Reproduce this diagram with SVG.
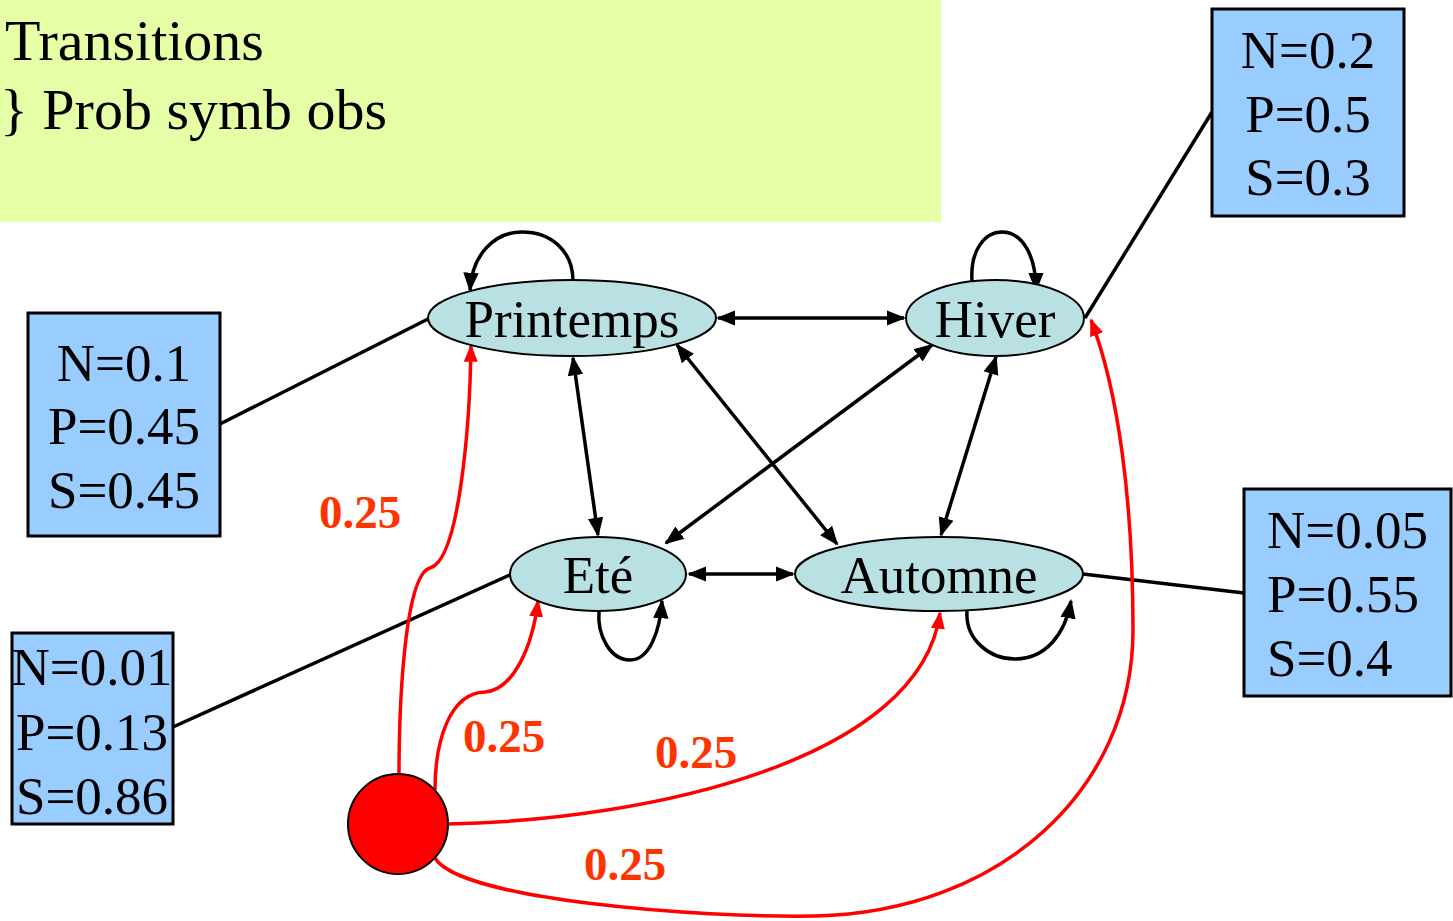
<svg xmlns="http://www.w3.org/2000/svg" width="1453" height="921" viewBox="0 0 1453 921">
<defs>
<style>
.t{font-family:"Liberation Serif","Times New Roman",serif;fill:#000}
.big{font-size:53px}
.leg{font-size:58px}
.st{fill:#B9E0E3;stroke:#000;stroke-width:2}
.obs{fill:#99CCFF;stroke:#000;stroke-width:3}
.ln{fill:none;stroke:#000;stroke-width:3.5}
.red{fill:none;stroke:#FF0000;stroke-width:3.5}
.lab{font-family:"Liberation Serif","Times New Roman",serif;font-weight:bold;font-size:47px;fill:#FF3300}
</style>
<marker id="ab" viewBox="0 0 10 10" refX="9" refY="5" markerWidth="5.5" markerHeight="5.5" orient="auto-start-reverse" markerUnits="strokeWidth">
<path d="M0,1 L10,5 L0,9 z" fill="#000"/>
</marker>
<marker id="ar" viewBox="0 0 10 10" refX="9" refY="5" markerWidth="5" markerHeight="5" orient="auto" markerUnits="strokeWidth">
<path d="M0,1 L10,5 L0,9 z" fill="#FF0000"/>
</marker>
</defs>
<rect width="1453" height="921" fill="#fff"/>
<g id="legend">
<rect x="0" y="0" width="941" height="222" fill="#E6FFA6"/>
<text class="t leg" x="5" y="60">Transitions</text>
<text class="t leg" x="0" y="129">} Prob symb obs</text>
</g>
<g id="connectors">
<line class="ln" x1="220" y1="424" x2="430" y2="318"/>
<line class="ln" x1="173" y1="727" x2="512" y2="574"/>
<line class="ln" x1="1212" y1="112" x2="1085" y2="318"/>
<line class="ln" x1="1244" y1="593" x2="1083" y2="574"/>
<line class="ln" x1="718" y1="318" x2="904" y2="318" marker-start="url(#ab)" marker-end="url(#ab)"/>
<line class="ln" x1="573" y1="358" x2="598" y2="535" marker-start="url(#ab)" marker-end="url(#ab)"/>
<line class="ln" x1="677" y1="345" x2="837" y2="544" marker-start="url(#ab)" marker-end="url(#ab)"/>
<line class="ln" x1="932" y1="345" x2="666" y2="543" marker-start="url(#ab)" marker-end="url(#ab)"/>
<line class="ln" x1="996" y1="357" x2="941" y2="535" marker-start="url(#ab)" marker-end="url(#ab)"/>
<line class="ln" x1="689" y1="574" x2="793" y2="574" marker-start="url(#ab)" marker-end="url(#ab)"/>
<path class="ln" d="M573,281 C573,250 550,232 522,232 C494,232 472,255 470,290" marker-end="url(#ab)"/>
<path class="ln" d="M972,281 C970,250 985,232 1002,232 C1022,232 1036,255 1036,290" marker-end="url(#ab)"/>
<path class="ln" d="M599,611 C597,635 610,660 630,660 C650,660 660,630 662,601" marker-end="url(#ab)"/>
<path class="ln" d="M967,611 C965,640 990,659 1015,659 C1045,659 1065,635 1071,601" marker-end="url(#ab)"/>
<path class="red" d="M399,776 C399,700 405,575 430,568 C460,560 470,420 471,346" marker-end="url(#ar)"/>
<path class="red" d="M435,790 C435,740 450,693 485,692 C512,690 532,650 538,601" marker-end="url(#ar)"/>
<path class="red" d="M448,824 C650,820 920,760 940,613" marker-end="url(#ar)"/>
<path class="red" d="M435,858 C460,900 700,918 815,916 C1000,912 1133,790 1133,630 C1133,500 1118,390 1091,320" marker-end="url(#ar)"/>
<text class="lab" x="319" y="528">0.25</text>
<text class="lab" x="463" y="752">0.25</text>
<text class="lab" x="655" y="768">0.25</text>
<text class="lab" x="584" y="880">0.25</text>
</g>
<g id="printemps">
<ellipse class="st" cx="572" cy="318" rx="144" ry="38"/>
<text class="t big" x="572" y="337" text-anchor="middle">Printemps</text>
</g>
<g id="hiver">
<ellipse class="st" cx="995" cy="318" rx="89" ry="38"/>
<text class="t big" x="995" y="337" text-anchor="middle">Hiver</text>
</g>
<g id="ete">
<ellipse class="st" cx="598" cy="574" rx="88" ry="37"/>
<text class="t big" x="598" y="593" text-anchor="middle">Eté</text>
</g>
<g id="automne">
<ellipse class="st" cx="939" cy="574" rx="144" ry="37"/>
<text class="t big" x="939" y="593" text-anchor="middle">Automne</text>
</g>
<g id="start">
<circle cx="398" cy="824" r="50" fill="#FF0000" stroke="#000" stroke-width="2"/>
</g>
<g id="obs-printemps">
<rect class="obs" x="28" y="313" width="192" height="223"/>
<text class="t big" x="124" y="381" text-anchor="middle">N=0.1</text>
<text class="t big" x="124" y="444" text-anchor="middle">P=0.45</text>
<text class="t big" x="124" y="508" text-anchor="middle">S=0.45</text>
</g>
<g id="obs-ete">
<rect class="obs" x="12" y="633" width="161" height="191"/>
<text class="t big" x="92" y="685" text-anchor="middle">N=0.01</text>
<text class="t big" x="92" y="750" text-anchor="middle">P=0.13</text>
<text class="t big" x="92" y="814" text-anchor="middle">S=0.86</text>
</g>
<g id="obs-hiver">
<rect class="obs" x="1212" y="9" width="192" height="207"/>
<text class="t big" x="1308" y="68" text-anchor="middle">N=0.2</text>
<text class="t big" x="1308" y="132" text-anchor="middle">P=0.5</text>
<text class="t big" x="1308" y="195" text-anchor="middle">S=0.3</text>
</g>
<g id="obs-automne">
<rect class="obs" x="1244" y="489" width="207" height="207"/>
<text class="t big" x="1267" y="548">N=0.05</text>
<text class="t big" x="1267" y="612">P=0.55</text>
<text class="t big" x="1267" y="676">S=0.4</text>
</g>
</svg>
